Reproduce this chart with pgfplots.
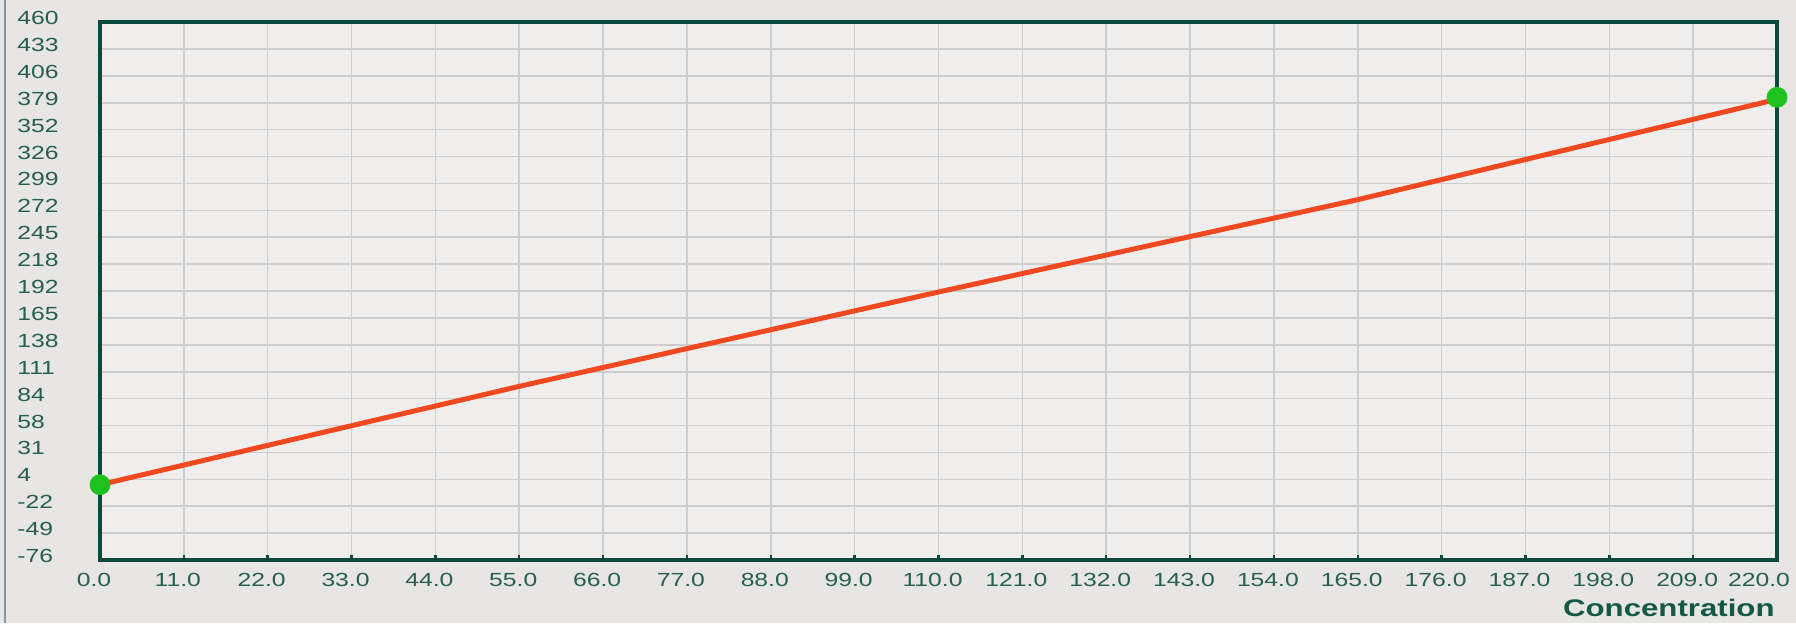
\documentclass[border=0pt]{standalone}
\usepackage{pgfplots}
\pgfplotsset{compat=1.18}
\usepackage{fontspec}
\setmainfont[FakeStretch=1.3]{Liberation Sans}
\definecolor{outerbg}{RGB}{232,230,229}
\definecolor{innerbg}{RGB}{239,238,237}
\definecolor{frame}{RGB}{14,74,59}
\definecolor{ticktxt}{RGB}{38,95,78}
\definecolor{labtxt}{RGB}{22,88,70}
\definecolor{linered}{RGB}{240,72,32}
\definecolor{dotgreen}{RGB}{30,194,30}
\definecolor{gridc}{RGB}{205,205,205}
\definecolor{winborder}{RGB}{130,148,165}
\pgfplotstableread{
x y
0 -1
55 97
110 191
165 283
220 383
}\calib
\pgfplotstableread{
x y
0 -1
220 385
}\ends
\begin{document}
\begin{tikzpicture}
\path[use as bounding box, fill=outerbg] (-50pt,-31.5pt) rectangle (848pt,280pt);
\draw[winborder, line width=1.2pt] (-47.5pt,-31.5pt) -- (-47.5pt,280pt);
\begin{axis}[
  at={(0,0)}, anchor=south west,
  scale only axis, width=838.5pt, height=269pt,
  xmin=0, xmax=220, ymin=-76, ymax=460,
  axis background/.style={fill=innerbg},
  axis line style={frame, line width=2pt},
  grid=major, major grid style={gridc, line width=0.8pt},
  xtick={0,11,...,220},
  xticklabels={0.0,11.0,22.0,33.0,44.0,55.0,66.0,77.0,88.0,99.0,110.0,121.0,132.0,143.0,154.0,165.0,176.0,187.0,198.0,209.0,{\hbox{220.0\kern12pt}}},
  ytick={-76,-49.2,-22.4,4.4,31.2,58,84.8,111.6,138.4,165.2,192,218.8,245.6,272.4,299.2,326,352.8,379.6,406.4,433.2,460},
  yticklabels={-76,-49,-22,4,31,58,84,111,138,165,192,218,245,272,299,326,352,379,406,433,460},
  major tick length=2.5pt,
  xtick style={frame, line width=1.2pt},
  ytick style={draw=none},
  tick align=inside,
  xtick pos=bottom, ytick pos=left,
  ticklabel style={font=\fontsize{9.5}{10}\selectfont, text=ticktxt},
  xticklabel style={inner sep=0pt, yshift=-6.6pt, xshift=-3pt},
  yticklabel style={anchor=west, inner sep=0pt, xshift=-41.5pt, yshift=2pt},
  xlabel={Concentration},
  xlabel style={at={(rel axis cs:1,0)}, anchor=east, inner sep=0pt, yshift=-24pt, xshift=-1pt, font=\bfseries\fontsize{12}{14}\selectfont, text=labtxt},
  clip=false,
]
\addplot[linered, line width=2.5pt] table[x=x,y=y] {\calib};
\addplot[only marks, mark=*, mark size=5pt, dotgreen, mark options={draw=dotgreen, fill=dotgreen}] table[x=x,y=y] {\ends};
\end{axis}
\end{tikzpicture}
\end{document}
